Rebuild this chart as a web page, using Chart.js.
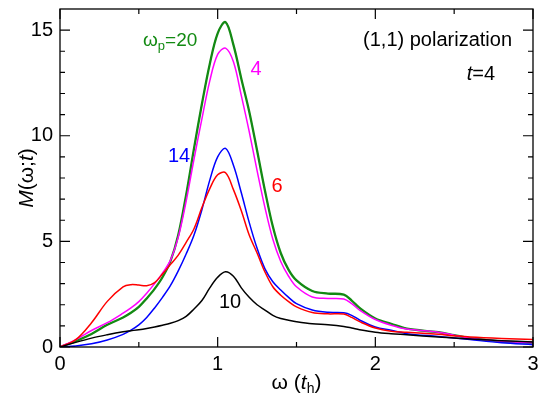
<!DOCTYPE html>
<html>
<head>
<meta charset="utf-8">
<script src="https://cdn.jsdelivr.net/npm/chart.js@4/dist/chart.umd.min.js"></script>
<style>
html,body{margin:0;padding:0;background:#fff;}
#wrap{width:538px;height:399px;position:relative;}
</style>
</head>
<body>
<div id="wrap"><canvas id="c" width="538" height="399"></canvas></div>
<script>
// ---- data ----
const omega = [0,0.1,0.2,0.3,0.4,0.45,0.5,0.55,0.6,0.65,0.7,0.75,0.8,0.85,0.9,0.95,1.0,1.05,1.1,1.15,1.2,1.25,1.3,1.35,1.4,1.45,1.5,1.6,1.7,1.8,1.85,1.9,2.0,2.1,2.2,2.4,2.5,2.6,2.8,3.0];
const wp20 = [0,0.28,0.62,1.05,1.4,1.62,1.9,2.3,2.75,3.3,4.05,5.3,7.2,9.4,11.5,13.4,14.85,15.38,14.3,12.7,11.15,9.3,7.4,5.7,4.45,3.65,3.15,2.65,2.53,2.48,2.2,1.85,1.35,1.1,0.87,0.7,0.56,0.42,0.26,0.2];
const wp4  = [0,0.35,0.78,1.15,1.6,1.85,2.15,2.55,3.0,3.5,4.1,5.2,6.9,8.9,10.8,12.6,13.85,14.15,13.5,11.9,10.2,8.35,6.6,5.1,4.05,3.35,2.85,2.37,2.3,2.27,2.05,1.75,1.3,1.03,0.85,0.7,0.56,0.42,0.27,0.2];
const wp14 = [0,0.05,0.15,0.33,0.6,0.8,1.05,1.4,1.85,2.35,2.9,3.6,4.4,5.3,6.5,7.9,9.0,9.4,8.6,7.3,5.9,4.67,3.7,3.09,2.7,2.35,2.05,1.75,1.64,1.62,1.5,1.28,0.95,0.79,0.63,0.5,0.43,0.35,0.2,0.11];
const wp6  = [0,0.35,1.15,2.16,2.85,2.95,2.93,2.9,3.05,3.45,3.9,4.35,4.95,5.6,6.6,7.5,8.15,8.25,7.45,6.45,5.3,4.45,3.55,2.85,2.45,2.15,1.9,1.63,1.57,1.56,1.4,1.2,0.9,0.75,0.7,0.6,0.53,0.47,0.4,0.35];
const wp10 = [0,0.22,0.42,0.58,0.72,0.77,0.82,0.88,0.95,1.03,1.12,1.25,1.45,1.8,2.2,2.8,3.3,3.56,3.35,2.8,2.35,2.0,1.75,1.5,1.35,1.27,1.2,1.1,1.05,0.97,0.9,0.82,0.7,0.63,0.58,0.47,0.43,0.38,0.3,0.24];
const xTicks = [0,1,2,3];
const yTicks = [0,5,10,15];
const xMinor = [0.5,1.5,2.5];
const yMinor = [1,2,3,4,6,7,8,9,11,12,13,14];

const FONT = '"Liberation Sans", Arial, sans-serif';
const pts = arr => omega.map((w,i)=>({x:w,y:arr[i]}));
const ds = (arr,color,width) => ({data:pts(arr),borderColor:color,borderWidth:width,pointRadius:0,fill:false,tension:0.35,borderJoinStyle:'round'});

function drawRich(ctx, parts, x, y, align){
  let total = 0;
  parts.forEach(p=>{ctx.font=p.font; p.w=ctx.measureText(p.t).width; total+=p.w;});
  let cx = align==='center' ? x-total/2 : (align==='right' ? x-total : x);
  ctx.textAlign='left'; ctx.textBaseline='alphabetic';
  parts.forEach(p=>{ctx.font=p.font; ctx.fillStyle=p.c||ctx.fillStyle; ctx.fillText(p.t,cx,y+(p.dy||0)); cx+=p.w;});
}

const deco = {
  id:'deco',
  afterDraw(chart){
    const ctx=chart.ctx, xs=chart.scales.x, ys=chart.scales.y, a=chart.chartArea;
    ctx.save();
    ctx.strokeStyle='#000'; ctx.lineWidth=1.3;
    ctx.strokeRect(a.left,a.top,a.right-a.left,a.bottom-a.top);
    ctx.lineWidth=1.2;
    ctx.beginPath();
    const tx=(v,len)=>{const p=xs.getPixelForValue(v);ctx.moveTo(p,a.bottom);ctx.lineTo(p,a.bottom-len);ctx.moveTo(p,a.top);ctx.lineTo(p,a.top+len);};
    const ty=(v,len)=>{const p=ys.getPixelForValue(v);ctx.moveTo(a.left,p);ctx.lineTo(a.left+len,p);ctx.moveTo(a.right,p);ctx.lineTo(a.right-len,p);};
    xTicks.forEach(v=>tx(v,10)); xMinor.forEach(v=>tx(v,5));
    yTicks.forEach(v=>ty(v,10)); yMinor.forEach(v=>ty(v,5));
    ctx.stroke();
    // annotations
    const F=s=>s+'px '+FONT, FI=s=>'italic '+s+'px '+FONT;
    drawRich(ctx,[{t:'ω',font:F(19),c:'#138a13'},{t:'p',font:F(13),dy:4,c:'#138a13'},{t:'=20',font:F(19),c:'#138a13'}],143,46,'left');
    drawRich(ctx,[{t:'4',font:F(20),c:'#ff00ff'}],256,75,'center');
    drawRich(ctx,[{t:'14',font:F(20),c:'#0000ff'}],179,162,'center');
    drawRich(ctx,[{t:'6',font:F(20),c:'#ff0000'}],277,192,'center');
    drawRich(ctx,[{t:'10',font:F(20),c:'#000'}],230,308,'center');
    drawRich(ctx,[{t:'(1,1) polarization',font:F(20),c:'#000'}],512,46,'right');
    drawRich(ctx,[{t:'t',font:FI(20),c:'#000'},{t:'=4',font:F(20),c:'#000'}],495,80,'right');
    // axis titles
    drawRich(ctx,[{t:'ω (',font:F(21),c:'#000'},{t:'t',font:FI(21),c:'#000'},{t:'h',font:F(14),dy:4,c:'#000'},{t:')',font:F(21),c:'#000'}],(a.left+a.right)/2,389,'center');
    ctx.save();
    ctx.translate(33,(a.top+a.bottom)/2); ctx.rotate(-Math.PI/2);
    drawRich(ctx,[{t:'M',font:FI(21),c:'#000'},{t:'(ω;',font:F(21),c:'#000'},{t:'t',font:FI(21),c:'#000'},{t:')',font:F(21),c:'#000'}],0,0,'center');
    ctx.restore();
    ctx.restore();
  }
};

new Chart(document.getElementById('c'),{
  type:'line',
  data:{datasets:[
    ds(wp10,'#000000',1.5),
    ds(wp6,'#ff0000',1.5),
    ds(wp14,'#0000ff',1.5),
    ds(wp4,'#ff00ff',1.5),
    ds(wp20,'#138a13',2.3),
    ds(wp20,'#0a3a0a',0.7)
  ]},
  options:{
    responsive:false,animation:false,
    plugins:{legend:{display:false},tooltip:{enabled:false}},
    layout:{padding:{left:0,right:5,top:9,bottom:0}},
    scales:{
      x:{type:'linear',min:0,max:3,
        afterBuildTicks:s=>{s.ticks=xTicks.map(v=>({value:v}));},
        afterFit:s=>{s.height=52;s.paddingLeft=0;s.paddingRight=0;},
        grid:{display:false,drawTicks:false,tickLength:0},border:{display:false},
        ticks:{font:{family:FONT,size:20},color:'#000',padding:5,maxRotation:0}},
      y:{type:'linear',min:0,max:16,
        afterBuildTicks:s=>{s.ticks=yTicks.map(v=>({value:v}));},
        afterFit:s=>{s.width=60;s.paddingTop=0;s.paddingBottom=0;},
        grid:{display:false,drawTicks:false,tickLength:0},border:{display:false},
        ticks:{font:{family:FONT,size:20},color:'#000',padding:7}}
    }
  },
  plugins:[deco]
});
</script>
</body>
</html>
